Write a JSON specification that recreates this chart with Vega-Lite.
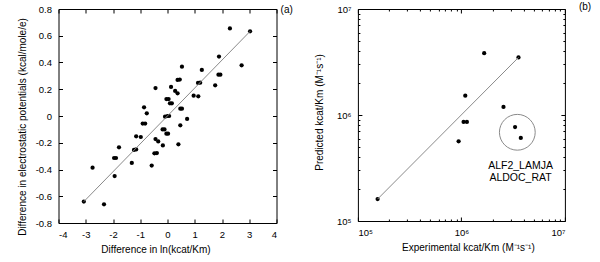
{
  "$schema": "https://vega.github.io/schema/vega-lite/v6.json",
  "padding": {"left": 16.5, "top": 1, "right": 4, "bottom": 0},
  "background": "white",
  "spacing": 20.4,
  "datasets": {
    "a_pts": [
      {"x": 2.29, "y": 0.655}, {"x": 3.03, "y": 0.633}, {"x": 1.89, "y": 0.444}, {"x": 2.72, "y": 0.379},
      {"x": 0.53, "y": 0.369}, {"x": 1.26, "y": 0.344}, {"x": 1.87, "y": 0.309}, {"x": 1.94, "y": 0.309},
      {"x": 1.75, "y": 0.229}, {"x": 1.12, "y": 0.247}, {"x": 1.2, "y": 0.249}, {"x": 0.37, "y": 0.27},
      {"x": 0.45, "y": 0.272}, {"x": -0.44, "y": 0.209}, {"x": 0.13, "y": 0.217}, {"x": 0.28, "y": 0.187},
      {"x": 0.37, "y": 0.17}, {"x": 0.96, "y": 0.152}, {"x": 1.13, "y": 0.147}, {"x": -0.04, "y": 0.127},
      {"x": 0.04, "y": 0.127}, {"x": 0.09, "y": 0.095}, {"x": 0.16, "y": 0.095}, {"x": -0.86, "y": 0.065},
      {"x": -0.76, "y": 0.02}, {"x": -0.91, "y": -0.057}, {"x": -0.82, "y": -0.057}, {"x": -0.09, "y": -0.005},
      {"x": 0.0, "y": 0.0}, {"x": 0.06, "y": 0.0}, {"x": 0.47, "y": 0.055}, {"x": 0.53, "y": 0.055},
      {"x": 0.72, "y": -0.022}, {"x": 0.47, "y": -0.07}, {"x": -0.18, "y": -0.1}, {"x": -0.11, "y": -0.1},
      {"x": -0.04, "y": -0.132}, {"x": 0.02, "y": -0.132}, {"x": -1.15, "y": -0.152}, {"x": -0.98, "y": -0.157},
      {"x": -0.44, "y": -0.172}, {"x": -0.34, "y": -0.19}, {"x": -0.17, "y": -0.22}, {"x": 0.4, "y": -0.212},
      {"x": -1.78, "y": -0.234}, {"x": -1.23, "y": -0.254}, {"x": -1.15, "y": -0.25}, {"x": -0.48, "y": -0.279},
      {"x": -0.39, "y": -0.277}, {"x": -1.96, "y": -0.314}, {"x": -1.89, "y": -0.314}, {"x": -1.31, "y": -0.351},
      {"x": -0.58, "y": -0.371}, {"x": -2.75, "y": -0.386}, {"x": -1.94, "y": -0.449}, {"x": -3.07, "y": -0.64},
      {"x": -2.33, "y": -0.66}
    ],
    "a_fit": [{"x": -3.07, "y": -0.64}, {"x": 3.03, "y": 0.633}],
    "b_pts": [
      {"x": 155000, "y": 161000}, {"x": 3560000, "y": 3490000}, {"x": 1660000, "y": 3830000},
      {"x": 1090000, "y": 1520000}, {"x": 2550000, "y": 1190000}, {"x": 1050000, "y": 860000},
      {"x": 1130000, "y": 860000}, {"x": 940000, "y": 565000}, {"x": 3300000, "y": 770000},
      {"x": 3750000, "y": 608000}
    ],
    "b_fit": [{"x": 155000, "y": 161000}, {"x": 3560000, "y": 3490000}]
  },
  "hconcat": [
    {
      "width": 218,
      "height": 214,
      "layer": [
        {
          "data": {"name": "a_pts"},
          "mark": {"type": "point", "filled": true, "color": "black", "size": 18, "opacity": 1},
          "encoding": {
            "x": {"field": "x", "type": "quantitative", "scale": {"domain": [-4, 4], "nice": false, "zero": false},
              "axis": {"orient": "bottom", "values": [-4, -3, -2, -1, 0, 1, 2, 3, 4], "labels": false, "title": null, "minExtent": 0, "maxExtent": 0}},
            "y": {"field": "y", "type": "quantitative", "scale": {"domain": [-0.8, 0.8], "nice": false, "zero": false},
              "axis": {"orient": "left", "values": [-0.8, -0.6, -0.4, -0.2, 0, 0.2, 0.4, 0.6, 0.8], "labels": false, "title": null, "minExtent": 0, "maxExtent": 0}}
          }
        },
        {
          "data": {"name": "a_fit"},
          "mark": {"type": "line", "color": "#8a8a8a", "strokeWidth": 1},
          "encoding": {
            "x": {"field": "x", "type": "quantitative", "scale": {"domain": [-4, 4], "nice": false, "zero": false},
              "axis": {"orient": "top", "values": [-4, -3, -2, -1, 0, 1, 2, 3, 4], "labels": false, "title": null, "minExtent": 0, "maxExtent": 0}},
            "y": {"field": "y", "type": "quantitative", "scale": {"domain": [-0.8, 0.8], "nice": false, "zero": false},
              "axis": {"orient": "right", "values": [-0.8, -0.6, -0.4, -0.2, 0, 0.2, 0.4, 0.6, 0.8], "labels": false, "title": null, "minExtent": 0, "maxExtent": 0}}
          }
        },
        {
          "data": {"values": [{"t": "(a)"}]},
          "mark": {"type": "text", "align": "left", "baseline": "middle", "fontSize": 10, "font": "Liberation Sans", "color": "black"},
          "encoding": {
            "x": {"datum": 4.15, "type": "quantitative", "scale": {"domain": [-4, 4], "nice": false, "zero": false},
              "axis": {"orient": "bottom", "values": [-4, -3, -2, -1, 0, 1, 2, 3, 4], "ticks": false, "labelPadding": 6,
                "labelExpr": "replace(datum.label, '−', '-')", "title": "Difference in ln(kcat/Km)", "titleX": 97,
                "minExtent": 15, "maxExtent": 15, "titlePadding": 6.6}},
            "y": {"datum": 0.7925, "type": "quantitative", "scale": {"domain": [-0.8, 0.8], "nice": false, "zero": false},
              "axis": {"orient": "left", "values": [-0.8, -0.6, -0.4, -0.2, 0, 0.2, 0.4, 0.6, 0.8], "ticks": false, "labelPadding": 7,
                "labelExpr": "datum.value == 0 ? '0' : replace(format(datum.value, '.1f'), '−', '-')",
                "title": "Difference in electrostatic potentials (kcal/mole/e)", "titleY": 117.5,
                "minExtent": 24, "maxExtent": 24, "titlePadding": 7}},
            "text": {"field": "t"}
          }
        }
      ],
      "resolve": {"axis": {"x": "independent", "y": "independent"}}
    },
    {
      "width": 207,
      "height": 212,
      "layer": [
        {
          "data": {"name": "b_pts"},
          "mark": {"type": "point", "filled": true, "color": "black", "size": 18, "opacity": 1},
          "encoding": {
            "x": {"field": "x", "type": "quantitative", "scale": {"type": "log", "domain": [100000, 10000000], "nice": false},
              "axis": {"orient": "bottom", "values": [100000, 1000000, 10000000], "labels": false, "title": null, "minExtent": 0, "maxExtent": 0}},
            "y": {"field": "y", "type": "quantitative", "scale": {"type": "log", "domain": [100000, 10000000], "nice": false},
              "axis": {"orient": "left", "values": [100000, 1000000, 10000000], "labels": false, "title": null, "minExtent": 0, "maxExtent": 0}}
          }
        },
        {
          "data": {"name": "b_fit"},
          "mark": {"type": "line", "color": "#8a8a8a", "strokeWidth": 1},
          "encoding": {
            "x": {"field": "x", "type": "quantitative", "scale": {"type": "log", "domain": [100000, 10000000], "nice": false},
              "axis": {"orient": "top", "values": [100000, 1000000, 10000000], "labels": false, "title": null, "minExtent": 0, "maxExtent": 0}},
            "y": {"field": "y", "type": "quantitative", "scale": {"type": "log", "domain": [100000, 10000000], "nice": false},
              "axis": {"orient": "right", "values": [100000, 1000000, 10000000], "labels": false, "title": null, "minExtent": 0, "maxExtent": 0}}
          }
        },
        {
          "data": {"values": [{"t": "circle"}]},
          "mark": {"type": "point", "shape": "circle", "filled": false, "color": "#8a8a8a", "strokeWidth": 1, "size": 1280, "opacity": 1},
          "encoding": {
            "x": {"datum": 3470000, "type": "quantitative", "scale": {"type": "log", "domain": [100000, 10000000], "nice": false},
              "axis": {"orient": "bottom", "values": [200000, 300000, 400000, 500000, 600000, 700000, 800000, 900000, 2000000, 3000000, 4000000, 5000000, 6000000, 7000000, 8000000, 9000000], "labels": false, "title": null, "tickSize": -2, "minExtent": 0, "maxExtent": 0}},
            "y": {"datum": 687000, "type": "quantitative", "scale": {"type": "log", "domain": [100000, 10000000], "nice": false},
              "axis": {"orient": "left", "values": [200000, 300000, 400000, 500000, 600000, 700000, 800000, 900000, 2000000, 3000000, 4000000, 5000000, 6000000, 7000000, 8000000, 9000000], "labels": false, "title": null, "tickSize": -2, "minExtent": 0, "maxExtent": 0}}
          }
        },
        {
          "data": {"values": [{"t": "ALF2_LAMJA\nALDOC_RAT"}]},
          "mark": {"type": "text", "align": "center", "baseline": "middle", "lineBreak": "\n", "fontSize": 10.5, "lineHeight": 12, "font": "Liberation Sans", "color": "black"},
          "encoding": {
            "x": {"datum": 3730000, "type": "quantitative", "scale": {"type": "log", "domain": [100000, 10000000], "nice": false},
              "axis": {"orient": "top", "values": [200000, 300000, 400000, 500000, 600000, 700000, 800000, 900000, 2000000, 3000000, 4000000, 5000000, 6000000, 7000000, 8000000, 9000000], "labels": false, "title": null, "tickSize": -2, "minExtent": 0, "maxExtent": 0}},
            "y": {"datum": 330000, "type": "quantitative", "scale": {"type": "log", "domain": [100000, 10000000], "nice": false},
              "axis": {"orient": "right", "values": [200000, 300000, 400000, 500000, 600000, 700000, 800000, 900000, 2000000, 3000000, 4000000, 5000000, 6000000, 7000000, 8000000, 9000000], "labels": false, "title": null, "tickSize": -2, "minExtent": 0, "maxExtent": 0}},
            "text": {"field": "t"}
          }
        },
        {
          "data": {"values": [{"t": "(b)"}]},
          "mark": {"type": "text", "align": "left", "baseline": "middle", "fontSize": 10, "font": "Liberation Sans", "color": "black"},
          "encoding": {
            "x": {"datum": 13650000, "type": "quantitative", "scale": {"type": "log", "domain": [100000, 10000000], "nice": false},
              "axis": {"orient": "bottom", "values": [100000, 1000000, 10000000], "ticks": false, "labelPadding": 6,
                "labelExpr": "datum.value > 5000000 ? '10⁷' : datum.value > 500000 ? '10⁶' : '10⁵'",
                "title": "Experimental kcat/Km (M⁻¹s⁻¹)", "titleX": 110,
                "minExtent": 15, "maxExtent": 15, "titlePadding": 6.6}},
            "y": {"datum": 10440000, "type": "quantitative", "scale": {"type": "log", "domain": [100000, 10000000], "nice": false},
              "axis": {"orient": "left", "values": [100000, 1000000, 10000000], "ticks": false, "labelPadding": 7,
                "labelExpr": "datum.value > 5000000 ? '10⁷' : datum.value > 500000 ? '10⁶' : '10⁵'",
                "title": "Predicted kcat/Km (M⁻¹s⁻¹)", "titleY": 103,
                "minExtent": 26, "maxExtent": 26, "titlePadding": 7.1}},
            "text": {"field": "t"}
          }
        }
      ],
      "resolve": {"axis": {"x": "independent", "y": "independent"}}
    }
  ],
  "config": {
    "view": {"stroke": "black", "strokeWidth": 1},
    "axis": {
      "domain": false, "grid": false, "ticks": true, "tickColor": "black", "tickSize": -4, "tickWidth": 1,
      "labelFont": "Liberation Sans", "labelFontSize": 9.5, "labelColor": "black",
      "titleFont": "Liberation Sans", "titleFontSize": 10, "titleFontWeight": "normal", "titleColor": "black"
    }
  }
}
